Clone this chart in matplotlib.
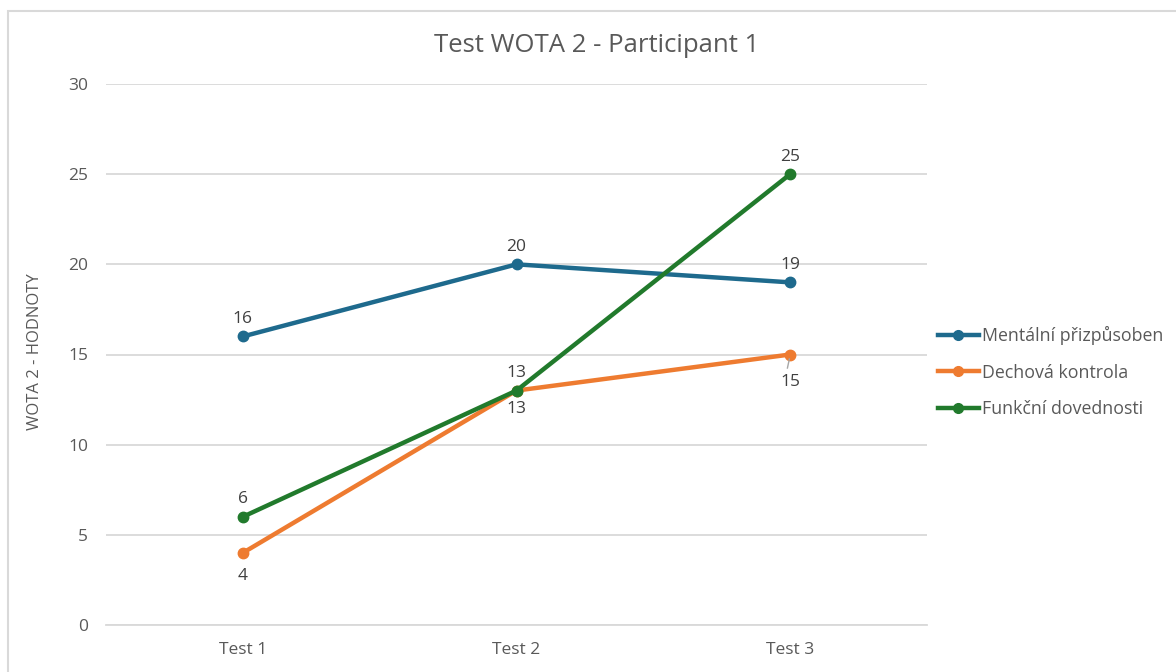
import matplotlib.pyplot as plt
from matplotlib.patches import Rectangle
from matplotlib.lines import Line2D

plt.rcParams['font.family'] = ['Open Sans', 'DejaVu Sans']

categories = ['Test 1', 'Test 2', 'Test 3']
series_names = ['Mentální přizpůsoben', 'Dechová kontrola', 'Funkční dovednosti']
mental = [16, 20, 19]
dechova = [4, 13, 15]
funkcni = [6, 13, 25]
colors = ['#1e6a8d', '#ee7b30', '#217a2c']
label_pos = ['above', 'below', 'above']

fig = plt.figure(figsize=(11.76, 6.72), dpi=100)
ax = fig.add_axes([106 / 1176, 1 - 625 / 672, (927 - 106) / 1176, (625 - 84) / 672])

x = list(range(len(categories)))
for vals, col, where in zip([mental, dechova, funkcni], colors, label_pos):
    ax.plot(x, vals, color=col, lw=3.2, marker='o', ms=7.5, solid_capstyle='round', zorder=3)
    for xi, v in zip(x, vals):
        if where == 'above':
            dy = 12.5
        elif xi == 0:
            dy = -16.5
        elif xi == 2:
            # label dragged down in the original, with a short leader line
            dy = -19.5
            ax.plot([xi - 0.003, xi - 0.01], [v - 0.25, v - 0.75], color='#a6a6a6', lw=1, zorder=4)
        else:
            dy = -13
        ax.annotate(str(v), (xi, v), xytext=(0, dy), textcoords='offset points',
                    ha='center', va='center', fontsize=12.5, color='#404040')

ax.set_xlim(-0.5, 2.5)
ax.set_ylim(0, 30)
ax.set_yticks(range(0, 31, 5))
ax.set_xticks(x)
ax.set_xticklabels(categories)
ax.grid(axis='y', color='#d9d9d9', lw=1.3)
ax.set_axisbelow(True)
for s in ['top', 'right', 'left']:
    ax.spines[s].set_visible(False)
ax.spines['bottom'].set_color('#d9d9d9')
ax.spines['bottom'].set_linewidth(1.3)
ax.tick_params(axis='both', length=0, labelsize=12.5, colors='#595959', pad=13)
ax.tick_params(axis='x', pad=12)

fig.text(597 / 1176, 1 - 46 / 672, 'Test WOTA 2 - Participant 1', ha='center', va='center',
         fontsize=18.5, color='#595959')
fig.text(35 / 1176, 1 - 352 / 672, 'WOTA 2 - HODNOTY', rotation=90, ha='center', va='center',
         fontsize=12, color='#595959')

handles = [Line2D([0], [0], color=c, lw=3.2, marker='o', ms=7) for c in colors]
leg = fig.legend(handles, series_names, loc='upper left', bbox_to_anchor=(922 / 1176, 1 - 310 / 672),
                 frameon=False, fontsize=12.8, handlelength=2.3, handletextpad=0.15, labelspacing=1.05,
                 labelcolor='#595959')

fig.patches.append(Rectangle((8 / 1176, -0.1), 1.2, 1.1 - 11 / 672, transform=fig.transFigure,
                             fill=False, edgecolor='#d9d9d9', lw=1.5))

fig.savefig('out.png', dpi=100)
